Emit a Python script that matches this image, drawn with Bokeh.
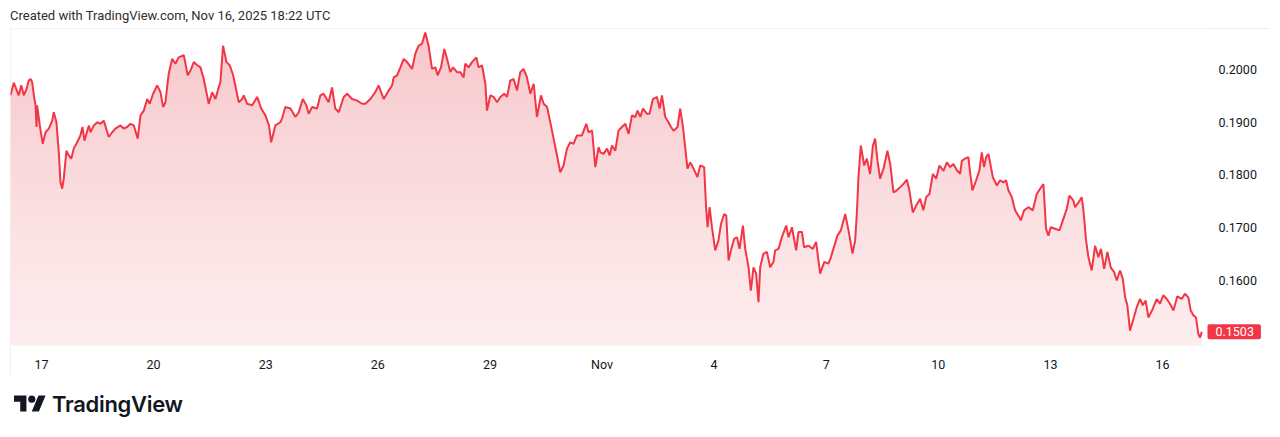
import numpy as np
import pandas as pd
from bokeh.plotting import figure
from bokeh.models import Range1d, FixedTicker, NumeralTickFormatter, Label, Div
from bokeh.layouts import column
from bokeh.embed import file_html
from bokeh.resources import INLINE

# ---------------- data ----------------
base_time = "2025-10-16 00:00"   # hours below are counted from this moment (UTC)

hours_a = [4.1, 6.2, 9.4, 11.0, 12.6, 14.4, 15.8, 17.0, 18.0, 19.1,
           20.2, 20.8, 21.2, 22.9, 24.8, 26.6, 28.7, 30.9, 31.9, 33.6,
           35.1, 36.2, 37.3, 38.3, 40.0, 41.5, 43.1, 44.7, 46.9, 49.0,
           50.3, 51.6, 54.4, 55.5, 57.6, 59.8, 61.9, 64.0, 67.2, 69.4,
           71.5, 74.7, 76.8, 79.0, 81.1, 83.3, 85.8, 87.6, 89.7, 91.9,
           93.5, 95.7, 98.3, 100.4, 102.1, 103.6, 105.7, 107.9, 110.0, 112.1,
           115.4, 117.9, 119.7, 121.8, 124.0, 126.1, 128.2, 131.4, 133.6, 135.7,
           137.8, 138.9, 140.6, 142.8, 144.9, 147.1, 150.7, 152.9, 153.9, 156.1,
           159.3, 162.5, 165.1, 167.8, 170.1, 171.5, 174.2, 177.4, 178.5, 180.6,
           183.9, 187.1, 189.2, 191.8, 194.1, 195.6]
price_a = [0.1951, 0.1975, 0.1951, 0.1970, 0.1951, 0.1963, 0.1979, 0.1982, 0.1976, 0.1951,
           0.1932, 0.1891, 0.1932, 0.1894, 0.1859, 0.1881, 0.1888, 0.1903, 0.1919, 0.1900,
           0.1843, 0.1786, 0.1774, 0.1793, 0.1846, 0.1837, 0.1831, 0.1850, 0.1862, 0.1875,
           0.1891, 0.1865, 0.1894, 0.1881, 0.1894, 0.1900, 0.1897, 0.1903, 0.1872, 0.1881,
           0.1888, 0.1894, 0.1888, 0.1891, 0.1897, 0.1894, 0.1869, 0.1913, 0.1922, 0.1944,
           0.1935, 0.1954, 0.1970, 0.1957, 0.1929, 0.1938, 0.1992, 0.2020, 0.2011, 0.2023,
           0.2027, 0.1989, 0.1998, 0.2014, 0.2008, 0.2004, 0.1982, 0.1935, 0.1957, 0.1944,
           0.1966, 0.1976, 0.2045, 0.2014, 0.2008, 0.1989, 0.1938, 0.1944, 0.1951, 0.1935,
           0.1932, 0.1948, 0.1926, 0.1913, 0.1894, 0.1862, 0.1894, 0.1900, 0.1907, 0.1929,
           0.1926, 0.1910, 0.1919, 0.1944, 0.1932, 0.1916]

hours_b = [197.8, 201.0, 203.1, 205.2, 208.4, 210.6, 212.7, 214.9, 218.1, 220.3,
           223.5, 226.7, 229.9, 232.0, 235.2, 238.4, 240.5, 243.8, 247.0, 249.2,
           250.2, 252.4, 254.5, 256.6, 258.8, 262.0, 264.1, 266.2, 268.4, 270.5,
           272.6, 274.8, 277.0, 278.4, 280.6, 282.7, 284.5, 286.6, 288.3, 290.9,
           293.0, 295.1, 296.2, 298.3, 300.5, 303.3, 304.7, 306.9, 309.1, 310.1,
           312.3, 314.4, 316.6, 318.7, 321.2, 323.0, 325.1, 327.2, 329.4, 331.5,
           333.6, 335.8, 338.0, 340.1, 342.2, 344.8, 346.5, 348.7, 351.2, 352.9,
           355.1, 357.2, 359.3, 361.5, 363.6, 365.7, 367.9, 371.1, 373.9, 375.4,
           377.6, 379.7, 381.8]
price_b = [0.1929, 0.1926, 0.1951, 0.1954, 0.1938, 0.1966, 0.1926, 0.1919, 0.1948, 0.1954,
           0.1944, 0.1941, 0.1935, 0.1935, 0.1944, 0.1957, 0.1970, 0.1944, 0.1960, 0.1970,
           0.1985, 0.1989, 0.2004, 0.2020, 0.2014, 0.2001, 0.2030, 0.2045, 0.2049, 0.2070,
           0.2045, 0.2001, 0.2004, 0.1989, 0.2004, 0.2039, 0.2020, 0.1995, 0.2004, 0.1995,
           0.1995, 0.1985, 0.2011, 0.2004, 0.2014, 0.2023, 0.2004, 0.2008, 0.1973, 0.1922,
           0.1951, 0.1948, 0.1938, 0.1948, 0.1954, 0.1948, 0.1979, 0.1982, 0.1960, 0.1995,
           0.2001, 0.1985, 0.1954, 0.1973, 0.1910, 0.1951, 0.1935, 0.1929, 0.1894, 0.1869,
           0.1837, 0.1805, 0.1818, 0.1850, 0.1862, 0.1859, 0.1875, 0.1875, 0.1897, 0.1881,
           0.1884, 0.1815, 0.1853]

hours_c = [382.9, 385.0, 387.2, 388.9, 390.4, 392.5, 394.6, 396.8, 399.0, 401.1,
           403.2, 405.4, 406.8, 408.6, 410.3, 412.9, 414.5, 416.7, 419.3, 421.0,
           422.5, 424.6, 426.7, 428.3, 430.0, 432.5, 434.2, 436.0, 437.4, 438.9,
           440.7, 442.8, 445.3, 447.1, 449.6, 450.9, 451.8, 453.1, 454.6, 456.7,
           458.8, 460.4, 462.5, 463.8, 465.3, 466.8, 468.9, 470.7, 472.3, 474.5,
           476.0, 478.1, 479.6, 481.3, 483.0, 484.5, 485.6, 487.7, 489.9, 492.0,
           494.1, 495.2, 497.4, 499.5, 502.3, 503.8, 506.0, 508.7, 510.2, 512.4,
           513.8, 516.6, 519.4, 521.5, 524.1, 526.7, 529.4, 531.0, 532.6, 535.2,
           537.4, 540.2, 542.3, 544.9, 546.6, 547.7, 548.7, 550.2, 552.4, 554.1,
           556.2, 558.0, 559.4, 560.9, 562.6, 564.8, 567.3, 569.1, 571.2, 573.4,
           575.5]
price_c = [0.1843, 0.1840, 0.1850, 0.1837, 0.1856, 0.1846, 0.1884, 0.1891, 0.1897, 0.1878,
           0.1913, 0.1910, 0.1922, 0.1910, 0.1926, 0.1916, 0.1916, 0.1944, 0.1948, 0.1926,
           0.1951, 0.1910, 0.1900, 0.1891, 0.1884, 0.1891, 0.1926, 0.1891, 0.1853, 0.1812,
           0.1824, 0.1812, 0.1796, 0.1818, 0.1815, 0.1736, 0.1701, 0.1739, 0.1701, 0.1657,
           0.1676, 0.1707, 0.1726, 0.1723, 0.1638, 0.1657, 0.1679, 0.1682, 0.1660, 0.1704,
           0.1660, 0.1625, 0.1581, 0.1625, 0.1613, 0.1559, 0.1625, 0.1651, 0.1654, 0.1625,
           0.1635, 0.1657, 0.1660, 0.1682, 0.1704, 0.1682, 0.1701, 0.1657, 0.1692, 0.1692,
           0.1663, 0.1666, 0.1660, 0.1673, 0.1613, 0.1635, 0.1632, 0.1644, 0.1660, 0.1685,
           0.1695, 0.1726, 0.1695, 0.1651, 0.1676, 0.1729, 0.1796, 0.1856, 0.1818, 0.1831,
           0.1802, 0.1856, 0.1869, 0.1828, 0.1793, 0.1812, 0.1846, 0.1821, 0.1767, 0.1771,
           0.1777]

hours_d = [577.6, 579.8, 581.4, 583.6, 585.8, 588.3, 590.4, 592.2, 594.3, 596.5,
           598.6, 600.7, 603.3, 605.5, 607.6, 609.7, 611.9, 614.0, 615.1, 617.2,
           619.3, 620.4, 621.9, 624.3, 626.4, 627.9, 629.4, 630.7, 632.2, 635.0,
           637.6, 639.7, 641.8, 643.5, 645.0, 647.2, 649.3, 651.4, 653.0, 655.1,
           657.8, 660.7, 663.2, 665.4, 667.5, 669.2, 670.7, 672.2, 675.0, 677.8,
           680.0, 682.5, 684.2, 686.7, 687.8, 690.0, 692.1, 693.2, 694.9, 696.4,
           698.5, 700.7, 702.8, 704.5, 706.5, 708.6, 710.7, 712.9, 714.6, 716.7,
           718.5, 720.0, 721.4, 723.1, 725.3, 727.4, 729.6, 731.3, 733.2, 734.9,
           737.7, 740.3, 742.4, 744.5, 746.7, 748.8, 751.0, 753.5, 756.3, 758.4,
           760.6, 762.1, 763.8, 765.5, 767.0, 768.1, 769.2]
price_d = [0.1783, 0.1791, 0.1771, 0.1729, 0.1742, 0.1755, 0.1733, 0.1758, 0.1764, 0.1802,
           0.1793, 0.1818, 0.1808, 0.1824, 0.1815, 0.1821, 0.1809, 0.1802, 0.1827, 0.1831,
           0.1834, 0.1805, 0.1771, 0.1790, 0.1809, 0.1843, 0.1815, 0.1834, 0.1840, 0.1796,
           0.1780, 0.1790, 0.1786, 0.1790, 0.1771, 0.1758, 0.1733, 0.1723, 0.1714, 0.1733,
           0.1739, 0.1733, 0.1764, 0.1774, 0.1783, 0.1698, 0.1685, 0.1701, 0.1698, 0.1695,
           0.1714, 0.1736, 0.1761, 0.1752, 0.1739, 0.1748, 0.1758, 0.1733, 0.1676, 0.1644,
           0.1619, 0.1666, 0.1644, 0.1660, 0.1622, 0.1654, 0.1625, 0.1616, 0.1600, 0.1619,
           0.1603, 0.1568, 0.1553, 0.1505, 0.1527, 0.1549, 0.1565, 0.1553, 0.1562, 0.1530,
           0.1546, 0.1565, 0.1556, 0.1572, 0.1565, 0.1556, 0.1543, 0.1570, 0.1565, 0.1575,
           0.1568, 0.1543, 0.1534, 0.1530, 0.1499, 0.1492, 0.1503]

tick_dates = ["2025-10-17", "2025-10-20", "2025-10-23", "2025-10-26", "2025-10-29",
              "2025-11-01", "2025-11-04", "2025-11-07", "2025-11-10", "2025-11-13",
              "2025-11-16"]
tick_labels = ["17", "20", "23", "26", "29", "Nov", "4", "7", "10", "13", "16"]
price_ticks = [0.16, 0.17, 0.18, 0.19, 0.20]

header_text = "Created with TradingView.com, Nov 16, 2025 18:22 UTC"
brand_text = "TradingView"

# ---------------- assemble ----------------
for h, v in ((hours_a, price_a), (hours_b, price_b), (hours_c, price_c), (hours_d, price_d)):
    assert len(h) == len(v)

hours = np.array(hours_a + hours_b + hours_c + hours_d)
price = np.array(price_a + price_b + price_c + price_d)
t0 = pd.Timestamp(base_time)
times = t0 + pd.to_timedelta(hours, unit="h")

RED = "#f23645"
TXT = "#131722"
FONT = "Roboto"

x_start = t0 + pd.Timedelta(hours=4.09)
x_end = t0 + pd.Timedelta(hours=771.6)
y_lo, y_hi = 0.14768, 0.20777

FRAME_W, FRAME_H = 1195, 317
TAG_W = 53

p = figure(frame_width=FRAME_W, frame_height=FRAME_H, x_axis_type="datetime",
           y_axis_location="right", output_backend="svg", toolbar_location=None,
           x_range=Range1d(x_start, x_end), y_range=Range1d(y_lo, y_hi),
           min_border_left=0, min_border_top=0, min_border_right=64, min_border_bottom=27,
           margin=(0, 0, 0, 10))
p.styles = {"outline": "1px solid #e9e9ec", "outline-offset": "-1px"}
p.outline_line_color = None
p.background_fill_color = "white"
p.border_fill_color = "white"
p.xgrid.visible = False
p.ygrid.visible = False

# area fill (gradient: solid pink, faded toward the bottom by white bands)
p.varea(x=times, y1=y_lo, y2=price, fill_color="#f8c7cb", fill_alpha=1.0)
edges = np.linspace(y_lo, y_hi, FRAME_H + 1)
frac = (0.5 * (edges[:-1] + edges[1:]) - y_lo) / (y_hi - y_lo)
alphas = 0.86 * (1.0 - frac)
p.quad(left=x_start, right=x_end, bottom=edges[:-1], top=edges[1:],
       fill_color="white", fill_alpha=alphas, line_color=None)

p.line(times, price, line_color=RED, line_width=2)

# x axis
tick_ms = [pd.Timestamp(d).value / 1e6 for d in tick_dates]
p.xaxis.ticker = FixedTicker(ticks=tick_ms)
p.xaxis.major_label_overrides = {ms: lab for ms, lab in zip(tick_ms, tick_labels)}
p.xaxis.axis_line_color = None
p.xaxis.major_tick_line_color = None
p.xaxis.minor_tick_line_color = None
p.xaxis.major_label_standoff = 5
p.xaxis.major_label_text_font = FONT
p.xaxis.major_label_text_font_size = "12.5px"
p.xaxis.major_label_text_color = TXT

# y axis
yax = p.yaxis[0]
yax.ticker = FixedTicker(ticks=price_ticks)
yax.formatter = NumeralTickFormatter(format="0.0000")
yax.axis_line_color = None
yax.major_tick_line_color = None
yax.minor_tick_line_color = None
yax.major_tick_out = 0
yax.major_tick_in = 0
yax.major_label_text_font = FONT
yax.major_label_text_font_size = "12.5px"
yax.major_label_text_color = TXT

# last price tag, hosted in the right side panel (not clipped by the frame)
last = Label(x=2, y=float(price[-1]), x_units="screen", y_units="data",
             text=f"{price[-1]:.4f}", text_align="left", text_baseline="middle",
             text_color="white", text_font=FONT, text_font_size="12.5px",
             background_fill_color=RED, padding=(8, 7, 3, 3), border_radius=2)
p.add_layout(last, "right")
p.right = [last, yax]
yax.major_label_standoff = 13 - TAG_W

header = Div(text=f'<span style="font-family:Roboto,sans-serif;font-size:13px;color:#2e2e2e;'
                  f'line-height:16px;white-space:nowrap">{header_text}</span>',
             width=600, height=20, margin=(8, 0, 0, 10))

logo_svg = ('<svg width="32" height="25" viewBox="0 0 36 28" xmlns="http://www.w3.org/2000/svg">'
            '<path d="M14 22H7V11H0V4h14v18zM28 22h-8l7.5-18h8L28 22z" fill="#131722"/>'
            '<circle cx="20" cy="8" r="4" fill="#131722"/></svg>')
footer = Div(text=f'<div style="display:flex;align-items:center;gap:6px">{logo_svg}'
                  f'<span style="font-family:Inter,sans-serif;font-weight:600;font-size:22px;'
                  f'color:#131722;letter-spacing:-0.3px">{brand_text}</span></div>',
             width=300, height=30, margin=(15, 0, 0, 14))

layout = column(header, p, footer, spacing=0)

open("out.html", "w").write(file_html(layout, INLINE))
